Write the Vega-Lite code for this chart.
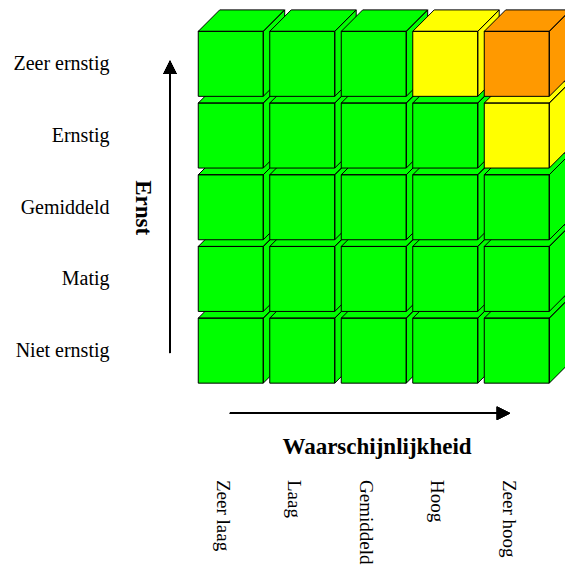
{
  "$schema": "https://vega.github.io/schema/vega-lite/v6.json",
  "autosize": {"type": "none"},
  "padding": {"left": 195, "top": 28, "right": 12.5, "bottom": 185.5},
  "width": 357.5,
  "height": 358.5,
  "background": "white",
  "config": {"view": {"stroke": null}},
  "data": {
    "values": [
      {"waarschijnlijkheid": "Zeer laag", "k": 1, "ernst": "Niet ernstig", "e": 1, "risico": "laag"},
      {"waarschijnlijkheid": "Laag", "k": 2, "ernst": "Niet ernstig", "e": 1, "risico": "laag"},
      {"waarschijnlijkheid": "Gemiddeld", "k": 3, "ernst": "Niet ernstig", "e": 1, "risico": "laag"},
      {"waarschijnlijkheid": "Hoog", "k": 4, "ernst": "Niet ernstig", "e": 1, "risico": "laag"},
      {"waarschijnlijkheid": "Zeer hoog", "k": 5, "ernst": "Niet ernstig", "e": 1, "risico": "laag"},
      {"waarschijnlijkheid": "Zeer laag", "k": 1, "ernst": "Matig", "e": 2, "risico": "laag"},
      {"waarschijnlijkheid": "Laag", "k": 2, "ernst": "Matig", "e": 2, "risico": "laag"},
      {"waarschijnlijkheid": "Gemiddeld", "k": 3, "ernst": "Matig", "e": 2, "risico": "laag"},
      {"waarschijnlijkheid": "Hoog", "k": 4, "ernst": "Matig", "e": 2, "risico": "laag"},
      {"waarschijnlijkheid": "Zeer hoog", "k": 5, "ernst": "Matig", "e": 2, "risico": "laag"},
      {"waarschijnlijkheid": "Zeer laag", "k": 1, "ernst": "Gemiddeld", "e": 3, "risico": "laag"},
      {"waarschijnlijkheid": "Laag", "k": 2, "ernst": "Gemiddeld", "e": 3, "risico": "laag"},
      {"waarschijnlijkheid": "Gemiddeld", "k": 3, "ernst": "Gemiddeld", "e": 3, "risico": "laag"},
      {"waarschijnlijkheid": "Hoog", "k": 4, "ernst": "Gemiddeld", "e": 3, "risico": "laag"},
      {"waarschijnlijkheid": "Zeer hoog", "k": 5, "ernst": "Gemiddeld", "e": 3, "risico": "laag"},
      {"waarschijnlijkheid": "Zeer laag", "k": 1, "ernst": "Ernstig", "e": 4, "risico": "laag"},
      {"waarschijnlijkheid": "Laag", "k": 2, "ernst": "Ernstig", "e": 4, "risico": "laag"},
      {"waarschijnlijkheid": "Gemiddeld", "k": 3, "ernst": "Ernstig", "e": 4, "risico": "laag"},
      {"waarschijnlijkheid": "Hoog", "k": 4, "ernst": "Ernstig", "e": 4, "risico": "laag"},
      {"waarschijnlijkheid": "Zeer hoog", "k": 5, "ernst": "Ernstig", "e": 4, "risico": "midden"},
      {"waarschijnlijkheid": "Zeer laag", "k": 1, "ernst": "Zeer ernstig", "e": 5, "risico": "laag"},
      {"waarschijnlijkheid": "Laag", "k": 2, "ernst": "Zeer ernstig", "e": 5, "risico": "laag"},
      {"waarschijnlijkheid": "Gemiddeld", "k": 3, "ernst": "Zeer ernstig", "e": 5, "risico": "laag"},
      {"waarschijnlijkheid": "Hoog", "k": 4, "ernst": "Zeer ernstig", "e": 5, "risico": "midden"},
      {"waarschijnlijkheid": "Zeer hoog", "k": 5, "ernst": "Zeer ernstig", "e": 5, "risico": "hoog"}
    ]
  },
  "layer": [
    {
      "description": "Risk cells drawn as cubes: front face, top face and right side face in one symbol path",
      "mark": {
        "type": "point",
        "shape": "M-1,-1L1,-1L1,1L-1,1Z M-1,-1L-0.34,-1.66L1.66,-1.66L1,-1Z M1,-1L1.66,-1.66L1.66,0.34L1,1Z",
        "size": 4225,
        "filled": true,
        "opacity": 1,
        "stroke": "#000000",
        "strokeWidth": 1
      },
      "encoding": {
        "x": {
          "field": "k",
          "type": "quantitative",
          "scale": {"domain": [0.5, 5.5], "nice": false, "zero": false},
          "axis": {
            "values": [1, 2, 3, 4, 5],
            "labelExpr": "['', 'Zeer laag', 'Laag', 'Gemiddeld', 'Hoog', 'Zeer hoog'][datum.value]",
            "domain": false,
            "ticks": false,
            "tickSize": 0,
            "grid": false,
            "labelAngle": 90,
            "labelAlign": "left",
            "labelBaseline": "alphabetic",
            "labelPadding": 93,
            "labelOffset": -14.5,
            "labelFlush": false,
            "labelOverlap": false,
            "labelBound": false,
            "labelFont": "Liberation Serif",
            "labelFontSize": 19,
            "labelColor": "#000000",
            "title": "Waarschijnlijkheid",
            "titleFont": "Liberation Serif",
            "titleFontSize": 23,
            "titleFontWeight": "bold",
            "titleColor": "#000000",
            "titleAngle": 0,
            "titleAlign": "center",
            "titleBaseline": "alphabetic",
            "titleX": 181.5,
            "titleY": 66.8
          }
        },
        "y": {
          "field": "e",
          "type": "quantitative",
          "scale": {"domain": [0.5, 5.5], "nice": false, "zero": false},
          "axis": {
            "values": [1, 2, 3, 4, 5],
            "labelExpr": "['', 'Niet ernstig', 'Matig', 'Gemiddeld', 'Ernstig', 'Zeer ernstig'][datum.value]",
            "domain": false,
            "ticks": false,
            "tickSize": 0,
            "grid": false,
            "labelPadding": 86,
            "labelFlush": false,
            "labelOverlap": false,
            "labelBound": false,
            "labelFont": "Liberation Serif",
            "labelFontSize": 20,
            "labelColor": "#000000",
            "title": "Ernst",
            "titleFont": "Liberation Serif",
            "titleFontSize": 23,
            "titleFontWeight": "bold",
            "titleColor": "#000000",
            "titleAngle": 90,
            "titleAlign": "center",
            "titleBaseline": "alphabetic",
            "titleX": -60,
            "titleY": 179.25
          }
        },
        "color": {
          "field": "risico",
          "type": "nominal",
          "scale": {"domain": ["laag", "midden", "hoog"], "range": ["#00FF00", "#FFFF00", "#FF9900"]},
          "legend": null
        }
      }
    },
    {
      "description": "Shaft of the vertical arrow (Ernst)",
      "mark": {"type": "rule", "stroke": "#000000", "strokeWidth": 1},
      "encoding": {
        "x": {"datum": 0.15, "type": "quantitative"},
        "y": {"datum": 0.967, "type": "quantitative"},
        "y2": {"datum": 4.88}
      }
    },
    {
      "description": "Head of the vertical arrow",
      "mark": {"type": "point", "shape": "M0,0L-1,2L1,2Z", "size": 169, "filled": true, "opacity": 1, "color": "#000000"},
      "encoding": {
        "x": {"datum": 0.15, "type": "quantitative"},
        "y": {"datum": 5.044, "type": "quantitative"}
      }
    },
    {
      "description": "Shaft of the horizontal arrow (Waarschijnlijkheid)",
      "mark": {"type": "rule", "stroke": "#000000", "strokeWidth": 1},
      "encoding": {
        "y": {"datum": 0.126, "type": "quantitative"},
        "x": {"datum": 0.989, "type": "quantitative"},
        "x2": {"datum": 4.73}
      }
    },
    {
      "description": "Head of the horizontal arrow",
      "mark": {"type": "point", "shape": "M0,0L-2,-1L-2,1Z", "size": 169, "filled": true, "opacity": 1, "color": "#000000"},
      "encoding": {
        "x": {"datum": 4.905, "type": "quantitative"},
        "y": {"datum": 0.126, "type": "quantitative"}
      }
    }
  ]
}
